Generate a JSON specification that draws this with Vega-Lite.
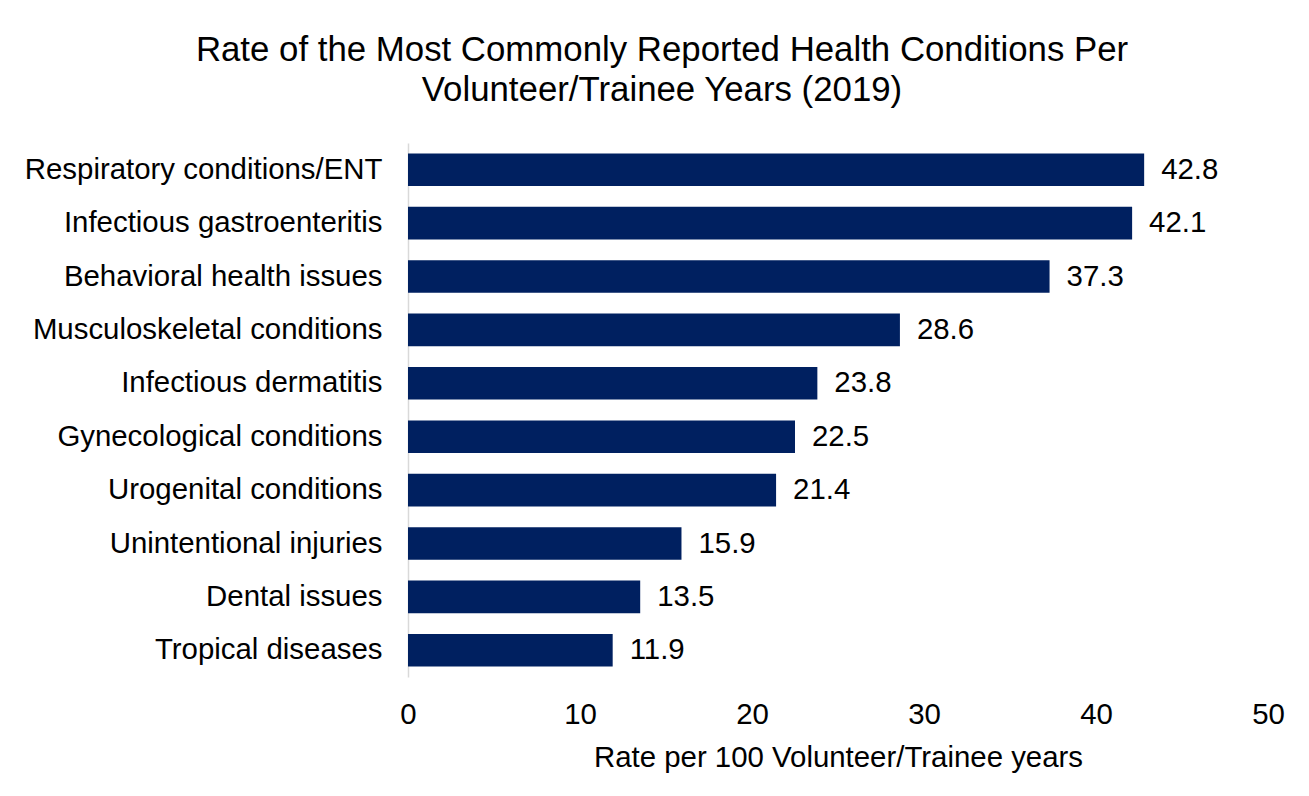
{
  "$schema": "https://vega.github.io/schema/vega-lite/v6.json",
  "autosize": {"type": "none"},
  "width": 860,
  "height": 534,
  "padding": {"left": 408, "top": 143, "right": 41, "bottom": 119},
  "background": "white",
  "title": {
    "text": ["Rate of the Most Commonly Reported Health Conditions Per", "Volunteer/Trainee Years (2019)"],
    "font": "Liberation Sans",
    "fontSize": 34.8,
    "fontWeight": "normal",
    "color": "#000000",
    "lineHeight": 40,
    "anchor": "middle",
    "dx": -176,
    "offset": 34
  },
  "data": {
    "values": [
      {"condition": "Respiratory conditions/ENT", "rate": 42.8},
      {"condition": "Infectious gastroenteritis", "rate": 42.1},
      {"condition": "Behavioral health issues", "rate": 37.3},
      {"condition": "Musculoskeletal conditions", "rate": 28.6},
      {"condition": "Infectious dermatitis", "rate": 23.8},
      {"condition": "Gynecological conditions", "rate": 22.5},
      {"condition": "Urogenital conditions", "rate": 21.4},
      {"condition": "Unintentional injuries", "rate": 15.9},
      {"condition": "Dental issues", "rate": 13.5},
      {"condition": "Tropical diseases", "rate": 11.9}
    ]
  },
  "config": {
    "view": {"stroke": null},
    "font": "Liberation Sans"
  },
  "encoding": {
    "y": {
      "field": "condition",
      "type": "nominal",
      "sort": {"field": "rate", "order": "descending"},
      "scale": {"paddingInner": 0.39, "paddingOuter": 0.195},
      "axis": {
        "title": null,
        "ticks": false,
        "domain": true,
        "domainColor": "#d9d9d9",
        "domainWidth": 1.5,
        "labelFont": "Liberation Sans",
        "labelFontSize": 29.4,
        "labelColor": "#000000",
        "labelPadding": 26,
        "labelLimit": 500,
        "grid": false
      }
    },
    "x": {
      "field": "rate",
      "type": "quantitative",
      "scale": {"domain": [0, 50], "nice": false},
      "axis": {
        "title": "Rate per 100 Volunteer/Trainee years",
        "titleFont": "Liberation Sans",
        "titleFontSize": 29.4,
        "titleFontWeight": "normal",
        "titleColor": "#000000",
        "titlePadding": 15,
        "values": [0, 10, 20, 30, 40, 50],
        "ticks": false,
        "domain": false,
        "grid": false,
        "labelFont": "Liberation Sans",
        "labelFontSize": 29.4,
        "labelColor": "#000000",
        "labelPadding": 23,
        "labelFlush": false
      }
    }
  },
  "layer": [
    {"mark": {"type": "bar", "color": "#002060"}},
    {
      "mark": {"type": "text", "align": "left", "baseline": "middle", "dx": 17, "font": "Liberation Sans", "fontSize": 29.4, "color": "#000000"},
      "encoding": {"text": {"field": "rate", "type": "quantitative", "format": ".1f"}}
    }
  ]
}
